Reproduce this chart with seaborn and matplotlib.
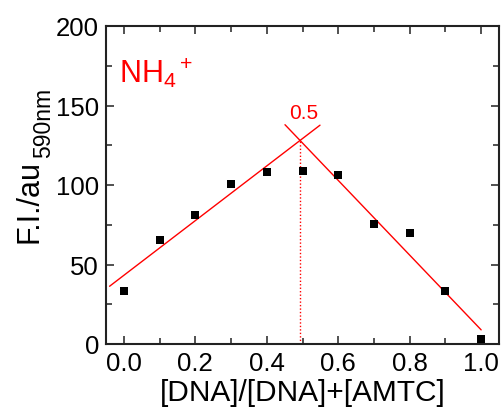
import numpy as np
import pandas as pd
import matplotlib
matplotlib.use("Agg")
import matplotlib.pyplot as plt
import seaborn as sns
from matplotlib.ticker import MultipleLocator, FormatStrFormatter

# Job plot: mole fraction of DNA vs fluorescence intensity
mole_fraction = [0.0, 0.1, 0.2, 0.3, 0.4, 0.5, 0.6, 0.7, 0.8, 0.9, 1.0]
intensity = [33.3, 65.4, 81.3, 100.6, 108.4, 109.0, 106.0, 75.5, 69.6, 33.1, 3.3]

# Linear fits (intercept, slope) and their drawn x-ranges
left_fit = [43.2, 172.0]
left_range = [-0.04, 0.549]
right_fit = [243.9, -235.0]
right_range = [0.451, 1.0]

sns.set_theme(style="ticks")
plt.rcParams["font.family"] = ["Liberation Sans", "DejaVu Sans"]
plt.rcParams["mathtext.fontset"] = "custom"
plt.rcParams["mathtext.rm"] = "Liberation Sans"
plt.rcParams["mathtext.it"] = "Liberation Sans"
plt.rcParams["text.color"] = "black"
plt.rcParams["axes.labelcolor"] = "black"
plt.rcParams["xtick.color"] = "black"
plt.rcParams["ytick.color"] = "black"

W, H = 503, 410
fig = plt.figure(figsize=(W / 100, H / 100), dpi=100)
ax = fig.add_axes([106 / W, 1 - 345 / H, (499 - 106) / W, (345 - 27) / H])

df = pd.DataFrame({"x": mole_fraction, "y": intensity})
sns.scatterplot(data=df, x="x", y="y", marker="s", s=26, color="black",
                edgecolor="black", linewidth=0, ax=ax, zorder=3)

def fit_df(fit, rng):
    xs = np.array(rng)
    return pd.DataFrame({"x": xs, "y": fit[0] + fit[1] * xs})

sns.lineplot(data=fit_df(left_fit, left_range), x="x", y="y", color="red",
             linewidth=1.0, ax=ax)
sns.lineplot(data=fit_df(right_fit, right_range), x="x", y="y", color="red",
             linewidth=1.0, ax=ax)

# Intersection of the two fits
x_cross = (right_fit[0] - left_fit[0]) / (left_fit[1] - right_fit[1])
y_cross = left_fit[0] + left_fit[1] * x_cross
ax.plot([x_cross, x_cross], [0, y_cross], color="red", linestyle=(0, (1, 1.5)),
        linewidth=1.0)
ax.text(x_cross + 0.01, 142, f"{x_cross:.1f}", color="red", fontsize=15,
        ha="center", va="baseline")

ax.text(-0.014, 165, r"NH$_4$$^+$", color="red", fontsize=22, ha="left",
        va="baseline")

ax.set_xlim(-0.05, 1.05)
ax.set_ylim(0, 200)
ax.xaxis.set_major_locator(MultipleLocator(0.2))
ax.xaxis.set_minor_locator(MultipleLocator(0.1))
ax.yaxis.set_major_locator(MultipleLocator(50))
ax.yaxis.set_minor_locator(MultipleLocator(25))
ax.xaxis.set_major_formatter(FormatStrFormatter("%.1f"))

ax.tick_params(which="both", direction="in", top=True, right=True,
               labeltop=False, labelright=False, width=1.2, color="#333333",
               labelcolor="black")
ax.tick_params(which="major", length=6, labelsize=18.5, pad=5)
ax.tick_params(which="minor", length=4)
for sp in ax.spines.values():
    sp.set_linewidth(1.5)
    sp.set_color("#222222")

ax.set_xlabel("[DNA]/[DNA]+[AMTC]", fontsize=21.5, labelpad=2, color="black")
ax.set_ylabel("")

# y-axis title with a large subscript
fig.text(37 / W, 1 - 243 / H, "F.I./au", fontsize=22, rotation=90,
         rotation_mode="anchor", ha="left", va="baseline", color="black")
fig.text(50 / W, 1 - 158 / H, "590nm", fontsize=16.5, rotation=90,
         rotation_mode="anchor", ha="left", va="baseline", color="black")

fig.savefig("out.png", dpi=100)
